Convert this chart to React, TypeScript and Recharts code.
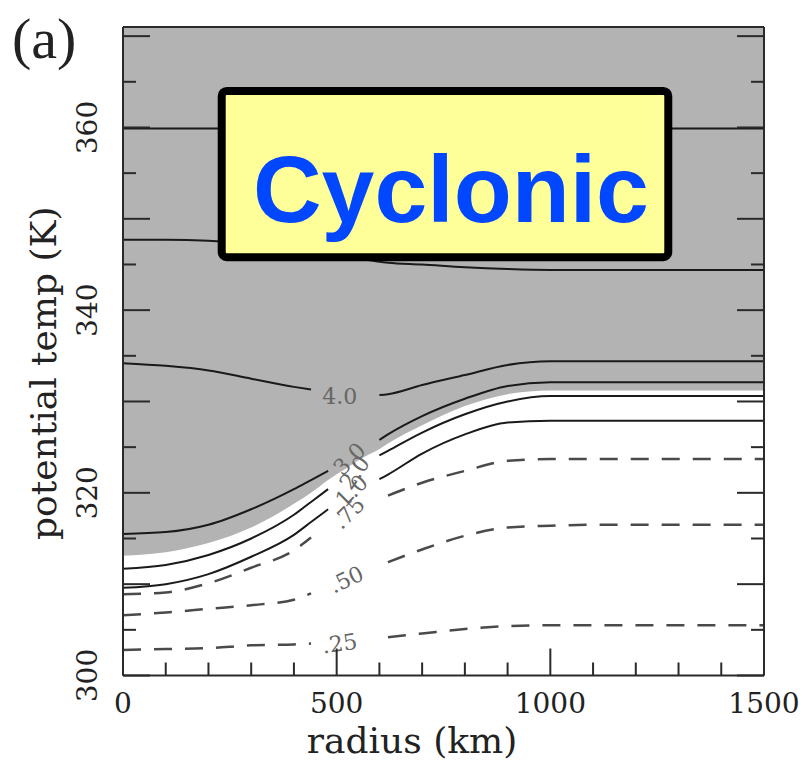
import React from 'react';
import { ComposedChart, Line, Area, XAxis, YAxis, CartesianGrid, ReferenceArea, ReferenceDot, Label } from 'recharts';

// radius grid (km) shared by every contour, null = gap for a contour label
const radiusKm = [0, 100, 200, 300, 400, 440, 480, 520, 560, 600, 620, 700, 800, 900, 1000, 1100, 1500];

const pv360 = [359.9, 359.9, 359.9, 359.9, 359.9, 359.9, 359.9, 359.9, 359.9, 359.9, 359.9, 359.9, 359.9, 359.9, 359.9, 359.9, 359.9];
const pvUpper = [347.7, 347.7, 347.6, 347.3, 346.8, 346.5, 346.2, 345.9, 345.6, 345.3, 345.2, 345.0, 344.7, 344.5, 344.4, 344.4, 344.4];
const pv40 = [334.2, 333.9, 333.4, 332.5, 331.6, 331.3, null, null, null, 330.7, 330.8, 331.8, 332.9, 334.0, 334.4, 334.4, 334.4];
const pv30 = [315.5, 315.7, 316.5, 318.2, 320.4, 321.4, 322.4, null, null, 325.8, 326.4, 328.4, 330.3, 331.7, 332.1, 332.1, 332.1];
const shadeEdge = [313.1, 313.5, 314.5, 316.2, 318.8, 320.0, 321.4, 322.6, 323.8, 324.8, 325.4, 327.4, 329.5, 330.8, 331.2, 331.2, 331.2];
const pv20 = [311.7, 312.1, 313.2, 315.0, 317.6, 319.0, 320.4, null, null, 324.1, 324.6, 326.6, 328.6, 330.0, 330.6, 330.6, 330.6];
const pv10 = [309.6, 310.0, 311.1, 313.0, 315.4, 316.8, 318.2, null, null, 321.5, 322.0, 324.3, 326.4, 327.7, 327.9, 327.9, 327.9];
const pv075 = [308.9, 309.1, 310.1, 311.8, 313.7, 315.1, null, null, null, null, 319.7, 321.1, 322.4, 323.5, 323.7, 323.7, 323.7];
const pv050 = [306.6, 306.9, 307.3, 307.7, 308.3, 309.0, null, null, null, null, 312.4, 313.8, 315.3, 316.2, 316.4, 316.5, 316.5];
const pv025 = [302.8, 302.9, 303.0, 303.3, 303.4, 303.5, null, null, null, null, 304.2, 304.6, 305.1, 305.4, 305.5, 305.5, 305.5];

// contour labels
const labelText = ['4.0', '3.0', '2.0', '1.0', '.75', '.50', '.25'];
const labelR = [507, 530, 542, 535, 528, 523, 507];
const labelT = [330.6, 323.7, 322.2, 320.2, 317.8, 310.5, 303.5];
const labelAngle = [0, -45, -55, -45, -45, -25, -8];

const xTicks = [0, 100, 200, 300, 400, 500, 600, 700, 800, 900, 1000, 1100, 1200, 1300, 1400, 1500];
const xTickLabels = [0, 500, 1000, 1500];
const yTicks = [300, 305, 310, 315, 320, 325, 330, 335, 340, 345, 350, 355, 360, 365, 370];
const yTickLabels = [300, 320, 340, 360];

const rows = radiusKm.map((r, i) => ({
    r,
    pv360: pv360[i],
    pvUpper: pvUpper[i],
    pv40: pv40[i],
    pv30: pv30[i],
    shade: shadeEdge[i],
    pv20: pv20[i],
    pv10: pv10[i],
    pv075: pv075[i],
    pv050: pv050[i],
    pv025: pv025[i],
}));

const solidKeys = ['pv360', 'pvUpper', 'pv40', 'pv30', 'pv20', 'pv10'];
const dashedKeys = ['pv075', 'pv050', 'pv025'];

const SERIF = '"DejaVu Serif", serif';
const FRAME = '#2a2a2a';

const BottomTick = ({ x, y, payload }: any) => {
    const v = payload.value;
    const len = v % 500 === 0 ? 27 : 13;
    return (
        <g>
            <line x1={x} y1={y} x2={x} y2={y - len} stroke={FRAME} strokeWidth={2} />
            {xTickLabels.includes(v) && (
                <text x={x} y={y + 37} textAnchor="middle" fontFamily={SERIF} fontSize={28} fill="#222">{v}</text>
            )}
        </g>
    );
};

const TopTick = ({ x, y, payload }: any) => {
    const len = payload.value % 500 === 0 ? 27 : 13;
    return <line x1={x} y1={y} x2={x} y2={y + len} stroke={FRAME} strokeWidth={2} />;
};

const LeftTick = ({ x, y, payload }: any) => {
    const v = payload.value;
    const len = v % 10 === 0 ? 27 : 13;
    return (
        <g>
            <line x1={x} y1={y} x2={x + len} y2={y} stroke={FRAME} strokeWidth={2} />
            {yTickLabels.includes(v) && (
                <text x={x - 26} y={y} transform={`rotate(-90, ${x - 26}, ${y})`} textAnchor="middle"
                    fontFamily={SERIF} fontSize={28} fill="#222">{v}</text>
            )}
        </g>
    );
};

const RightTick = ({ x, y, payload }: any) => {
    const len = payload.value % 10 === 0 ? 27 : 13;
    return <line x1={x} y1={y} x2={x - len} y2={y} stroke={FRAME} strokeWidth={2} />;
};

export default function App() {
    return (
        <div style={{ position: 'absolute', left: 0, top: 0, background: '#fff' }}>
            <ComposedChart width={805} height={762} data={rows} margin={{ top: 26, right: 40, bottom: 85.5, left: 122 }}>
                <CartesianGrid xAxisId="x" yAxisId="y" horizontal={false} vertical={false} fill="#b3b3b3" fillOpacity={1} stroke="none" />
                <Area xAxisId="x" yAxisId="y" type="monotone" dataKey="shade" baseValue={300} fill="#fff" fillOpacity={1}
                    stroke="none" isAnimationActive={false} />
                {solidKeys.map((k) => (
                    <Line key={k} xAxisId="x" yAxisId="y" type="monotone" dataKey={k} stroke="#1a1a1a" strokeWidth={2}
                        dot={false} isAnimationActive={false} />
                ))}
                {dashedKeys.map((k) => (
                    <Line key={k} xAxisId="x" yAxisId="y" type="monotone" dataKey={k} stroke="#4a4a4a" strokeWidth={2.5}
                        strokeDasharray="18 13" dot={false} isAnimationActive={false} />
                ))}
                {labelText.map((t, i) => (
                    <ReferenceDot key={t} xAxisId="x" yAxisId="y" x={labelR[i]} y={labelT[i]} r={0}
                        shape={(p: any) => (
                            <text x={p.cx} y={p.cy} textAnchor="middle" dominantBaseline="central"
                                transform={`rotate(${labelAngle[i]}, ${p.cx}, ${p.cy})`}
                                fontFamily={SERIF} fontSize={22} fill="#666">{t}</text>
                        )} />
                ))}
                <ReferenceArea xAxisId="x" yAxisId="y" x1={231} x2={1276} y1={345.8} y2={364.0} zIndex={450}
                    shape={(p: any) => (
                        <g>
                            <rect x={p.x} y={p.y} width={p.width} height={p.height} rx={5} fill="#ffff99" stroke="#000" strokeWidth={8} />
                            <text x={p.x + p.width / 2 + 6} y={p.y + p.height * 0.79} textAnchor="middle"
                                fontFamily='"Liberation Sans", Arial, sans-serif' fontWeight="bold" fontSize={95} fill="#0047ff">Cyclonic</text>
                        </g>
                    )} />
                <XAxis xAxisId="x" dataKey="r" type="number" domain={[0, 1500]} allowDataOverflow ticks={xTicks} interval={0}
                    height={1} tickSize={0} tickMargin={0} tickLine={false} tick={<BottomTick />}
                    axisLine={{ stroke: FRAME, strokeWidth: 2 }}>
                    <Label content={({ viewBox }: any) => (
                        <text x={viewBox.x + 289} y={viewBox.y + 77} textAnchor="middle" fontFamily={SERIF} fontSize={36} fill="#222">radius (km)</text>
                    )} />
                </XAxis>
                <XAxis xAxisId="top" orientation="top" type="number" domain={[0, 1500]} allowDataOverflow ticks={xTicks} interval={0}
                    height={1} tickSize={0} tickMargin={0} tickLine={false} tick={<TopTick />}
                    axisLine={{ stroke: FRAME, strokeWidth: 2 }} />
                <YAxis yAxisId="y" type="number" domain={[300, 371]} allowDataOverflow ticks={yTicks} interval={0}
                    width={1} tickSize={0} tickMargin={0} tickLine={false} tick={<LeftTick />}
                    axisLine={{ stroke: FRAME, strokeWidth: 2 }}>
                    <Label content={({ viewBox }: any) => {
                        const cx = viewBox.x - 66;
                        const cy = viewBox.y + viewBox.height / 2 + 22;
                        return (
                            <g>
                                <text x={cx} y={cy} transform={`rotate(-90, ${cx}, ${cy})`} textAnchor="middle"
                                    fontFamily={SERIF} fontSize={36} fill="#222">potential temp (K)</text>
                                <text x={viewBox.x - 110} y={viewBox.y + 31} fontFamily='"Liberation Serif", serif'
                                    fontSize={58} fill="#222">(a)</text>
                            </g>
                        );
                    }} />
                </YAxis>
                <YAxis yAxisId="right" orientation="right" type="number" domain={[300, 371]} allowDataOverflow ticks={yTicks} interval={0}
                    width={1} tickSize={0} tickMargin={0} tickLine={false} tick={<RightTick />}
                    axisLine={{ stroke: FRAME, strokeWidth: 2 }} />
            </ComposedChart>
        </div>
    );
}
